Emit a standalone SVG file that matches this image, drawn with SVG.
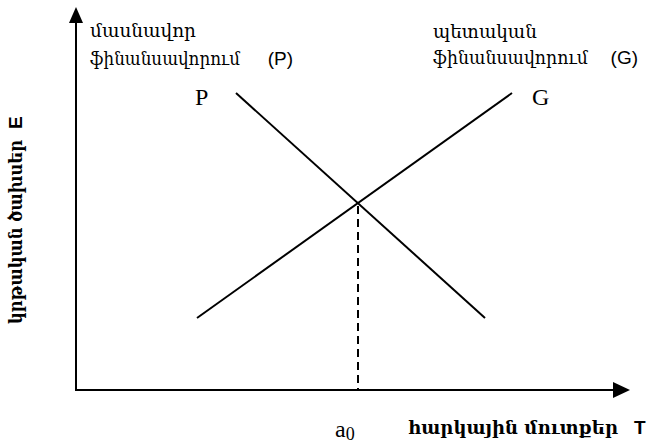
<svg xmlns="http://www.w3.org/2000/svg" width="650" height="443" viewBox="0 0 650 443">
<defs>
<style>
.arm{font-family:"DejaVu Serif","Noto Sans",serif;font-size:18px;fill:#000}
.lat{font-family:"Liberation Sans",Arial,sans-serif;font-size:19px;fill:#000}
.ser{font-family:"Liberation Serif","Times New Roman",serif;font-size:24px;fill:#000}
.bold{font-weight:bold}
.ln{stroke:#000;stroke-width:2;fill:none}
</style>
</defs>
<rect width="650" height="443" fill="#fff"/>
<g id="connectors">
<line class="ln" x1="76" y1="390" x2="76" y2="20"/>
<polygon points="76,7 69,23 83,23" fill="#000"/>
<line class="ln" x1="75" y1="390" x2="616" y2="390"/>
<polygon points="630,390 613,382 613,398" fill="#000"/>
<line class="ln" x1="236" y1="93" x2="485" y2="318"/>
<line class="ln" x1="197" y1="318" x2="512" y2="93"/>
<line class="ln" x1="358" y1="206" x2="358" y2="389" stroke-dasharray="8,5"/>
</g>
<g id="label-private">
<text class="arm" x="90" y="37" textLength="106" lengthAdjust="spacingAndGlyphs">մասնավոր</text>
<text class="arm" x="90" y="65" textLength="150" lengthAdjust="spacingAndGlyphs">ֆինանսավորում</text>
<text class="lat" x="293" y="65" text-anchor="end">(P)</text>
</g>
<g id="label-public">
<text class="arm" x="433" y="38" textLength="104" lengthAdjust="spacingAndGlyphs">պետական</text>
<text class="arm" x="433" y="64" textLength="155" lengthAdjust="spacingAndGlyphs">ֆինանսավորում</text>
<text class="lat" x="638" y="64" text-anchor="end">(G)</text>
</g>
<g id="curve-P"><text class="ser" x="195" y="105">P</text></g>
<g id="curve-G"><text class="ser" x="532" y="105">G</text></g>
<g id="y-label">
<text class="arm bold" transform="translate(22,324) rotate(-90)" textLength="184" lengthAdjust="spacingAndGlyphs">կրթական ծախսեր</text>
<text class="lat bold" transform="translate(22,129) rotate(-90)">E</text>
</g>
<g id="x-label">
<text class="arm bold" x="408" y="434" textLength="210" lengthAdjust="spacingAndGlyphs">հարկային մուտքեր</text>
<text class="lat bold" x="634" y="434">T</text>
</g>
<g id="a0"><text class="ser" font-size="26" x="335" y="437">a<tspan font-size="18" dy="3">0</tspan></text></g>
</svg>
